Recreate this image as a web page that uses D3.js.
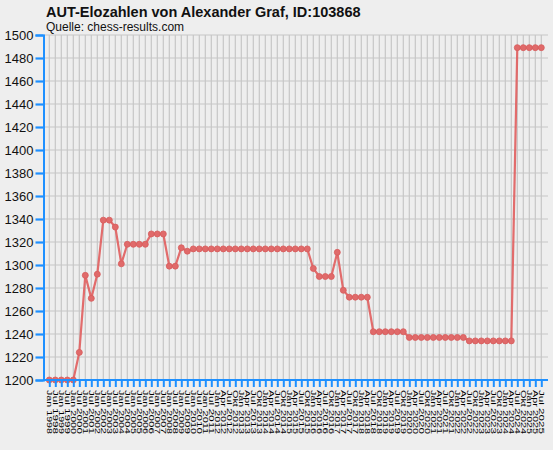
<!DOCTYPE html>
<html>
<head>
<meta charset="utf-8">
<script src="https://cdn.jsdelivr.net/npm/d3@7"></script>
<style>
html,body{margin:0;padding:0;background:#eeeeee;}
svg{display:block;}
</style>
</head>
<body>
<svg id="chart" width="553" height="450"></svg>
<script>
const titleText = "AUT-Elozahlen von Alexander Graf, ID:103868";
const subtitleText = "Quelle: chess-results.com";

const categories = [
"Jan 1998","Jul 1998","Jan 1999","Jul 1999","Jan 2000","Jul 2000","Jan 2001","Jul 2001",
"Jan 2002","Jul 2002","Jan 2003","Jul 2003","Jan 2004","Jul 2004","Jan 2005","Jul 2005",
"Jan 2006","Jul 2006","Jan 2007","Jul 2007","Jan 2008","Jul 2008","Jan 2009","Jul 2009",
"Jan 2010","Jul 2010","Jan 2011","Jul 2011",
"Jan 2012","Apr 2012","Jul 2012","Okt 2012","Jan 2013","Apr 2013","Jul 2013","Okt 2013",
"Jan 2014","Apr 2014","Jul 2014","Okt 2014","Jan 2015","Apr 2015","Jul 2015","Okt 2015",
"Jan 2016","Apr 2016","Jul 2016","Okt 2016","Jan 2017","Apr 2017","Jul 2017","Okt 2017",
"Jan 2018","Apr 2018","Jul 2018","Okt 2018","Jan 2019","Apr 2019","Jul 2019","Okt 2019",
"Jan 2020","Apr 2020","Jul 2020","Okt 2020","Jan 2021","Apr 2021","Jul 2021","Okt 2021",
"Jan 2022","Apr 2022","Jul 2022","Okt 2022","Jan 2023","Apr 2023","Jul 2023","Okt 2023",
"Jan 2024","Apr 2024","Jul 2024","Okt 2024","Jan 2025","Apr 2025","Jul 2025"
];

const elo = [
1200,1200,1200,1200,1200,1224,1291,1271,1292,1339,
1339,1333,1301,1318,1318,1318,1318,1327,1327,1327,
1299,1299,1315,1312,1314,1314,1314,1314,1314,1314,
1314,1314,1314,1314,1314,1314,1314,1314,1314,1314,
1314,1314,1314,1314,1297,1290,1290,1290,1311,1278,
1272,1272,1272,1272,1242,1242,1242,1242,1242,1242,
1237,1237,1237,1237,1237,1237,1237,1237,1237,1237,
1234,1234,1234,1234,1234,1234,1234,1234,1489,1489,
1489,1489,1489
];

const yTicks = [1200,1220,1240,1260,1280,1300,1320,1340,1360,1380,1400,1420,1440,1460,1480,1500];

const svg = d3.select("#chart");
const blue = "#1e90ff";
const lineColor = "#e06464";
const plotLeft = 43.5, plotRight = 548, plotTop = 35, plotBottom = 380;

svg.append("rect").attr("width",553).attr("height",450).attr("fill","#eeeeee");

const x = d3.scalePoint().domain(categories).range([49.3, 541.3]);
const y = d3.scaleLinear().domain([1200,1500]).range([plotBottom, plotTop]);

// grid
const grid = svg.append("g");
grid.selectAll("line.v").data(categories).enter().append("line")
  .attr("x1",d=>x(d)).attr("x2",d=>x(d)).attr("y1",plotTop).attr("y2",plotBottom)
  .attr("stroke","#c6c6c6").attr("stroke-width",1.2);
grid.selectAll("line.h").data(yTicks).enter().append("line")
  .attr("x1",plotLeft).attr("x2",plotRight).attr("y1",d=>y(d)).attr("y2",d=>y(d))
  .attr("stroke","#c6c6c6").attr("stroke-width",1.2);

// line + points
const line = d3.line().x((d,i)=>x(categories[i])).y(d=>y(d));
svg.append("path").datum(elo).attr("d",line).attr("fill","none")
  .attr("stroke",lineColor).attr("stroke-width",2.2).attr("opacity",0.95);
svg.append("g").selectAll("circle").data(elo).enter().append("circle")
  .attr("cx",(d,i)=>x(categories[i])).attr("cy",d=>y(d)).attr("r",3)
  .attr("fill","#e06a6a").attr("stroke","#d85c5c").attr("stroke-width",0.8);

// y axis
const yAxis = d3.axisLeft(y).tickValues(yTicks).tickSize(8).tickPadding(2).tickFormat(d3.format("d"));
const gy = svg.append("g").attr("transform",`translate(${plotLeft},0)`).call(yAxis);
gy.select(".domain").attr("stroke",blue).attr("stroke-width",2);
gy.selectAll(".tick line").attr("stroke",blue).attr("stroke-width",2.2);
gy.selectAll(".tick text").attr("font-family","'Liberation Sans', Arial, sans-serif")
  .attr("font-size",13).attr("fill","#111");

// x axis
const xAxis = d3.axisBottom(x).tickSize(7).tickPadding(2);
const gx = svg.append("g").attr("transform",`translate(0,${plotBottom})`).call(xAxis);
gx.select(".domain").attr("d",`M${plotLeft},0H${plotRight}`).attr("stroke",blue).attr("stroke-width",2);
gx.selectAll(".tick line").attr("stroke",blue).attr("stroke-width",2).attr("y1",1);
gx.selectAll(".tick text")
  .attr("font-family","'Liberation Sans', Arial, sans-serif").attr("font-size",8).attr("fill","#000")
  .attr("text-anchor","start")
  .attr("transform","rotate(90)")
  .attr("x",10).attr("y",0).attr("dy","0.32em")
  .attr("textLength",44).attr("lengthAdjust","spacingAndGlyphs");

// titles
svg.append("text").attr("x",46).attr("y",17).text(titleText)
  .attr("font-family","'Liberation Sans', Arial, sans-serif").attr("font-weight","bold")
  .attr("font-size",14.5).attr("fill","#111");
svg.append("text").attr("x",46).attr("y",31).text(subtitleText)
  .attr("font-family","'Liberation Sans', Arial, sans-serif")
  .attr("font-size",12).attr("fill","#111");
</script>
</body>
</html>
